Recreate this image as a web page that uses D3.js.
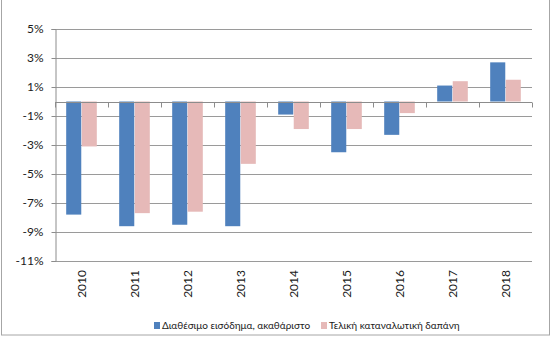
<!DOCTYPE html>
<html>
<head>
<meta charset="utf-8">
<script src="https://cdn.jsdelivr.net/npm/d3@7"></script>
<style>
  body { margin: 0; background: #fff; }
  svg { display: block; }
</style>
</head>
<body>
<div id="chart"></div>
<script>
var years = ["2010","2011","2012","2013","2014","2015","2016","2017","2018"];
var income = [-7.8, -8.6, -8.5, -8.6, -0.9, -3.5, -2.3, 1.1, 2.7];
var spending = [-3.1, -7.7, -7.6, -4.3, -1.9, -1.9, -0.8, 1.4, 1.5];
var seriesNames = ["Διαθέσιμο εισόδημα, ακαθάριστο", "Τελική καταναλωτική δαπάνη"];
var colors = ["#4F81BD", "#E6B9B8"];
var yTicks = [5, 3, 1, -1, -3, -5, -7, -9, -11];

var canvasWidth = 555;
var canvasHeight = 337;

var svg = d3.select("#chart")
    .append("svg")
    .attr("width", canvasWidth)
    .attr("height", canvasHeight)
    .style("font-family", "Lato, 'Open Sans', sans-serif");

/* outer chart frame */
svg.append("rect")
    .attr("x", 1.5)
    .attr("y", -5)
    .attr("width", 548)
    .attr("height", 340)
    .attr("fill", "none")
    .attr("stroke", "#a6a6a6")
    .attr("stroke-width", 1);

var plotLeft = 55, plotRight = 532, plotTop = 29, plotBottom = 261;

var x = d3.scaleBand().domain(years).range([plotLeft, plotRight]);
var y = d3.scaleLinear().domain([-11, 5]).range([plotBottom, plotTop]);

/* gridlines */
svg.append("g")
    .selectAll("line")
    .data(yTicks)
    .join("line")
    .attr("x1", plotLeft)
    .attr("x2", plotRight)
    .attr("y1", function(d){ return Math.round(y(d)) + 0.5; })
    .attr("y2", function(d){ return Math.round(y(d)) + 0.5; })
    .attr("stroke", "#9a9a9a")
    .attr("stroke-width", 1);

/* y axis */
var yAxis = svg.append("g")
    .attr("transform", "translate(" + (plotLeft + 0.5) + ",0)")
    .call(d3.axisLeft(y).tickValues(yTicks).tickSize(4).tickPadding(8)
        .tickFormat(function(d){ return d + "%"; }));
yAxis.select(".domain").attr("stroke", "#8c8c8c");
yAxis.selectAll(".tick line").attr("stroke", "#8c8c8c");
yAxis.selectAll("text")
    .attr("font-size", 12)
    .attr("fill", "#1a1a1a")
    .style("font-family", "Lato, sans-serif");

/* bars */
var inner = d3.scaleBand().domain([0, 1]).range([0, x.bandwidth()]).paddingInner(0.03).paddingOuter(0.72);
var rows = years.map(function(yr, i){ return {year: yr, vals: [income[i], spending[i]]}; });

var groups = svg.append("g")
    .selectAll("g")
    .data(rows)
    .join("g")
    .attr("transform", function(d){ return "translate(" + x(d.year) + ",0)"; });

groups.selectAll("rect")
    .data(function(d){ return d.vals.map(function(v, k){ return {v: v, k: k}; }); })
    .join("rect")
    .attr("x", function(d){ return inner(d.k); })
    .attr("width", inner.bandwidth())
    .attr("y", function(d){ return y(Math.max(0, d.v)); })
    .attr("height", function(d){ return Math.abs(y(d.v) - y(0)); })
    .attr("fill", function(d){ return colors[d.k]; });

/* zero axis with category ticks */
var xAxis = svg.append("g")
    .attr("transform", "translate(0," + (Math.round(y(0)) + 0.5) + ")");
xAxis.append("line")
    .attr("x1", plotLeft).attr("x2", plotRight)
    .attr("stroke", "#8c8c8c");
xAxis.selectAll(".ct")
    .data(years.concat(["end"]))
    .join("line")
    .attr("class", "ct")
    .attr("x1", function(d, i){ return Math.round(plotLeft + i * x.step()) + 0.5; })
    .attr("x2", function(d, i){ return Math.round(plotLeft + i * x.step()) + 0.5; })
    .attr("y1", 0)
    .attr("y2", 5)
    .attr("stroke", "#8c8c8c");

/* category labels below plot */
svg.append("g")
    .selectAll("text")
    .data(years)
    .join("text")
    .attr("transform", function(d){
        return "translate(" + (x(d) + x.bandwidth() / 2 + 4) + "," + (plotBottom + 9) + ") rotate(-90)";
    })
    .attr("text-anchor", "end")
    .attr("font-size", 12)
    .attr("fill", "#1a1a1a")
    .text(function(d){ return d; });

/* legend */
var legendX = [154, 321];
var legend = svg.append("g")
    .selectAll("g")
    .data(seriesNames)
    .join("g")
    .attr("transform", function(d, i){ return "translate(" + legendX[i] + ",322)"; });
legend.append("rect")
    .attr("width", 6)
    .attr("height", 7)
    .attr("fill", function(d, i){ return colors[i]; });
legend.append("text")
    .attr("x", 8)
    .attr("y", 7)
    .attr("font-size", 10)
    .attr("fill", "#1a1a1a")
    .text(function(d){ return d; });
</script>
</body>
</html>
